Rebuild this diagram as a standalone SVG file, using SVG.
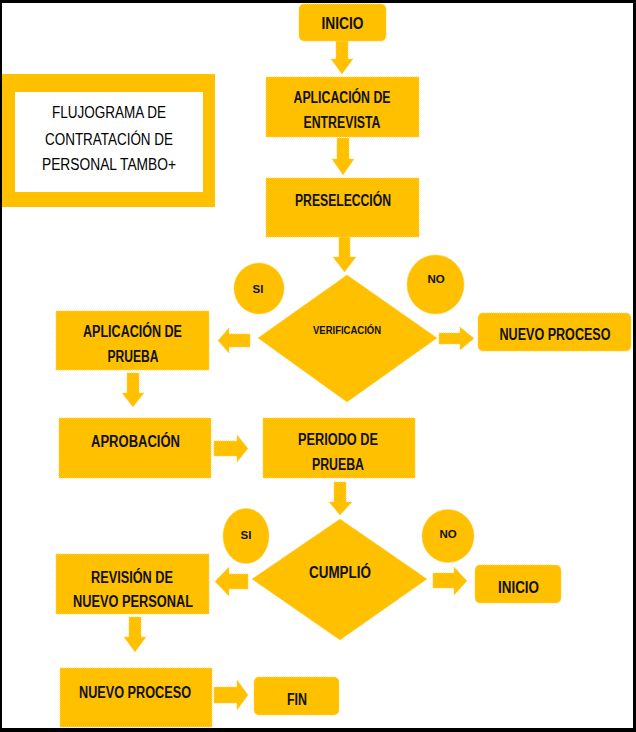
<svg xmlns="http://www.w3.org/2000/svg" width="636" height="732" viewBox="0 0 636 732">
<style>
.b{fill:#FFC000;stroke:#FFD24D;stroke-width:1;stroke-dasharray:1 1}
.a{fill:#FFC000;stroke:#FFD24D;stroke-width:1;stroke-dasharray:1 1}
.t{font-family:"Liberation Sans",Arial,sans-serif;font-weight:bold;font-size:16px;fill:#111;text-anchor:middle}
.s{font-size:11.5px}
.ti{font-family:"Liberation Sans",Arial,sans-serif;font-size:16px;fill:#000;text-anchor:middle}
</style>
<rect x="0" y="0" width="636" height="732" fill="#fff"/>
<g id="title">
<rect x="2" y="74" width="213" height="133" fill="#FFC000"/>
<rect x="15" y="92" width="188" height="100" fill="#fff"/>
<text class="ti" x="109" y="118" textLength="114" lengthAdjust="spacingAndGlyphs">FLUJOGRAMA DE</text>
<text class="ti" x="109" y="145" textLength="128" lengthAdjust="spacingAndGlyphs">CONTRATACIÓN DE</text>
<text class="ti" x="109" y="170" textLength="134" lengthAdjust="spacingAndGlyphs">PERSONAL TAMBO+</text>
</g>
<g id="connectors">
<polygon class="a" points="336,41 348,41 348,59 353,59 342,74 331,59 336,59"/>
<polygon class="a" points="337,138 349,138 349,159 354,159 343,175 332,159 337,159"/>
<polygon class="a" points="339,237 350,237 350,257 356,257 344.5,272 333,257 339,257"/>
<polygon class="a" points="250,334 229,334 229,328 218,340.5 229,353 229,347 250,347"/>
<polygon class="a" points="439,333 460,333 460,327 474,338.5 460,350 460,344 439,344"/>
<polygon class="a" points="127,373 139,373 139,393 144,393 133,407 122,393 127,393"/>
<polygon class="a" points="214,441 237,441 237,435 248,448.5 237,462 237,456 214,456"/>
<polygon class="a" points="334,482 346,482 346,502 352,502 340,515 329,502 334,502"/>
<polygon class="a" points="248,574 229,574 229,567 215,581.5 229,596 229,589 248,589"/>
<polygon class="a" points="433,573 454,573 454,567 467,581 454,595 454,588 433,588"/>
<polygon class="a" points="129,617 141,617 141,637 146,637 135,652 124,637 129,637"/>
<polygon class="a" points="214,687 237,687 237,680 248,695 237,710 237,703 214,703"/>
</g>
<g id="inicio">
<rect class="b" x="299" y="4" width="87" height="37" rx="5"/>
<text class="t" x="342.5" y="29" textLength="42" lengthAdjust="spacingAndGlyphs">INICIO</text>
</g>
<g id="entrevista">
<rect class="b" x="266" y="77" width="153" height="60"/>
<text class="t" x="342" y="103" textLength="97" lengthAdjust="spacingAndGlyphs">APLICACIÓN DE</text>
<text class="t" x="342" y="128" textLength="77" lengthAdjust="spacingAndGlyphs">ENTREVISTA</text>
</g>
<g id="preseleccion">
<rect class="b" x="266" y="178" width="153" height="59"/>
<text class="t" x="343" y="206" textLength="96" lengthAdjust="spacingAndGlyphs">PRESELECCIÓN</text>
</g>
<g id="verificacion">
<polygon class="b" points="347,275 437,338 347,402 258,338"/>
<text class="t s" x="347" y="334" textLength="68" lengthAdjust="spacingAndGlyphs">VERIFICACIÓN</text>
</g>
<g id="si1">
<ellipse class="b" cx="259" cy="288.5" rx="25" ry="25.5"/>
<text class="t s" x="258" y="293">SI</text>
</g>
<g id="no1">
<ellipse class="b" cx="435.5" cy="284.5" rx="28.5" ry="29.5"/>
<text class="t s" x="436" y="283">NO</text>
</g>
<g id="nuevo-proceso-1">
<rect class="b" x="478" y="313" width="153" height="38" rx="5"/>
<text class="t" x="555" y="340" textLength="111" lengthAdjust="spacingAndGlyphs">NUEVO PROCESO</text>
</g>
<g id="aplicacion-prueba">
<rect class="b" x="56" y="311" width="153" height="59"/>
<text class="t" x="132.5" y="337" textLength="99" lengthAdjust="spacingAndGlyphs">APLICACIÓN DE</text>
<text class="t" x="133" y="362" textLength="51" lengthAdjust="spacingAndGlyphs">PRUEBA</text>
</g>
<g id="aprobacion">
<rect class="b" x="59" y="418" width="152" height="60"/>
<text class="t" x="135.5" y="447" textLength="89" lengthAdjust="spacingAndGlyphs">APROBACIÓN</text>
</g>
<g id="periodo">
<rect class="b" x="263" y="418" width="152" height="60"/>
<text class="t" x="338" y="445" textLength="80" lengthAdjust="spacingAndGlyphs">PERIODO DE</text>
<text class="t" x="338" y="470" textLength="52" lengthAdjust="spacingAndGlyphs">PRUEBA</text>
</g>
<g id="cumplio">
<polygon class="b" points="340,519 427,579 340,640 252,579"/>
<text class="t" x="340" y="578" textLength="62" lengthAdjust="spacingAndGlyphs">CUMPLIÓ</text>
</g>
<g id="si2">
<ellipse class="b" cx="246" cy="536" rx="23" ry="27.5"/>
<text class="t s" x="246" y="539">SI</text>
</g>
<g id="no2">
<ellipse class="b" cx="448" cy="536" rx="26" ry="26.5"/>
<text class="t s" x="448" y="538">NO</text>
</g>
<g id="inicio-2">
<rect class="b" x="475" y="565" width="86" height="38" rx="5"/>
<text class="t" x="518.5" y="593" textLength="41" lengthAdjust="spacingAndGlyphs">INICIO</text>
</g>
<g id="revision">
<rect class="b" x="56" y="554" width="153" height="60"/>
<text class="t" x="132" y="583" textLength="82" lengthAdjust="spacingAndGlyphs">REVISIÓN DE</text>
<text class="t" x="133" y="607" textLength="120" lengthAdjust="spacingAndGlyphs">NUEVO PERSONAL</text>
</g>
<g id="nuevo-proceso-2">
<rect class="b" x="60" y="668" width="152" height="59"/>
<text class="t" x="135" y="698" textLength="112" lengthAdjust="spacingAndGlyphs">NUEVO PROCESO</text>
</g>
<g id="fin">
<rect class="b" x="254" y="677" width="85" height="38" rx="5"/>
<text class="t" x="297" y="705" textLength="20" lengthAdjust="spacingAndGlyphs">FIN</text>
</g>
<path d="M0,0H636V732H0Z M2,3V728H633V3Z" fill="#000" fill-rule="evenodd"/>
</svg>
